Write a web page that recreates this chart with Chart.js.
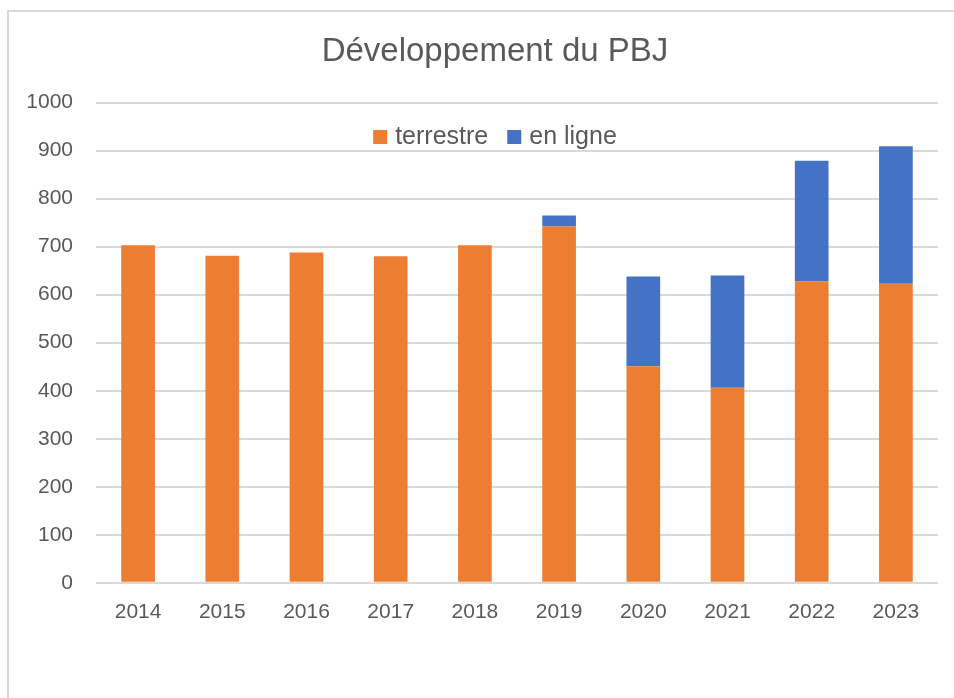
<!DOCTYPE html>
<html lang="fr">
<head>
<meta charset="utf-8">
<title>Développement du PBJ</title>
<script src="https://cdn.jsdelivr.net/npm/chart.js@4"></script>
<style>
    html, body { margin: 0; padding: 0; background: #ffffff; }
    #cadre {
        position: absolute;
        left: 7px;
        top: 10px;
        width: 980px;
        height: 720px;
        border: 2px solid #d9d9d9;
        box-sizing: border-box;
    }
    #contenedor {
        position: absolute;
        left: 0;
        top: 0;
        width: 954px;
        height: 698px;
    }
</style>
</head>
<body>
<div id="cadre"></div>
<div id="contenedor"><canvas id="graficoPBJ"></canvas></div>
<script>
// Données
const annees = ['2014', '2015', '2016', '2017', '2018', '2019', '2020', '2021', '2022', '2023'];
const terrestre = [703, 681, 688, 680, 703, 742, 451, 406, 628, 623];
const enLigne = [0, 0, 0, 0, 0, 23, 187, 234, 251, 286];
const nomsSeries = ['terrestre', 'en ligne'];

const couleurTexte = '#595959';
const police = "'Liberation Sans', Arial, sans-serif";

// Le titre est centré sur la même verticale que la légende (comme Excel)
const centreTitre = 495;
const decalerTitre = {
    id: 'decalerTitre',
    afterLayout(chart) {
        const t = chart.titleBlock;
        if (t) {
            t.left = 2 * centreTitre - t.right;
        }
    }
};

// Légende dessinée à l'intérieur de la zone du graphique
const legendeInterne = {
    id: 'legendeInterne',
    afterDraw(chart) {
        const ctx = chart.ctx;
        const datasets = chart.data.datasets;
        const taille = 14;
        const espaceTexte = 8;
        const espaceItem = 19;
        ctx.save();
        ctx.font = '25px ' + police;
        ctx.textBaseline = 'middle';
        let largeur = 0;
        datasets.forEach((ds, i) => {
            largeur += taille + espaceTexte + ctx.measureText(ds.label).width;
            if (i < datasets.length - 1) largeur += espaceItem;
        });
        let x = 495 - largeur / 2;
        const y = 137;
        datasets.forEach(ds => {
            ctx.fillStyle = ds.backgroundColor;
            ctx.fillRect(x, y - taille / 2, taille, taille);
            x += taille + espaceTexte;
            ctx.fillStyle = couleurTexte;
            ctx.fillText(ds.label, x, y);
            x += ctx.measureText(ds.label).width + espaceItem;
        });
        ctx.restore();
    }
};

const ctx = document.getElementById('graficoPBJ').getContext('2d');
const grafico = new Chart(ctx, {
    type: 'bar',
    data: {
        labels: annees,
        datasets: [{
            label: nomsSeries[0],
            data: terrestre,
            backgroundColor: '#ED7D31',
            borderWidth: 0
        }, {
            label: nomsSeries[1],
            data: enLigne,
            backgroundColor: '#4472C4',
            borderWidth: 0
        }]
    },
    options: {
        responsive: true,
        maintainAspectRatio: false,
        animation: false,
        datasets: {
            bar: {
                categoryPercentage: 1,
                barPercentage: 0.4
            }
        },
        layout: {
            padding: { left: 0, right: 16, top: 0, bottom: 56 }
        },
        plugins: {
            legend: { display: false },
            tooltip: { enabled: false },
            title: {
                display: true,
                text: 'Développement du PBJ',
                color: couleurTexte,
                font: { family: police, size: 33, weight: 'normal', lineHeight: 1.2 },
                padding: { top: 32, bottom: 31 }
            }
        },
        scales: {
            x: {
                stacked: true,
                grid: { display: false, drawTicks: false },
                border: { display: false },
                ticks: {
                    color: couleurTexte,
                    font: { family: police, size: 21 },
                    padding: 17,
                    maxRotation: 0
                }
            },
            y: {
                stacked: true,
                min: 0,
                max: 1000,
                afterFit: function (escala) {
                    escala.width = 96;
                },
                grid: {
                    color: '#d9d9d9',
                    lineWidth: 2,
                    drawTicks: false
                },
                border: { display: false },
                ticks: {
                    stepSize: 100,
                    color: couleurTexte,
                    font: { family: police, size: 21 },
                    padding: 23,
                    callback: function (valor) {
                        return String(valor);
                    }
                }
            }
        }
    },
    plugins: [decalerTitre, legendeInterne]
});
</script>
</body>
</html>
